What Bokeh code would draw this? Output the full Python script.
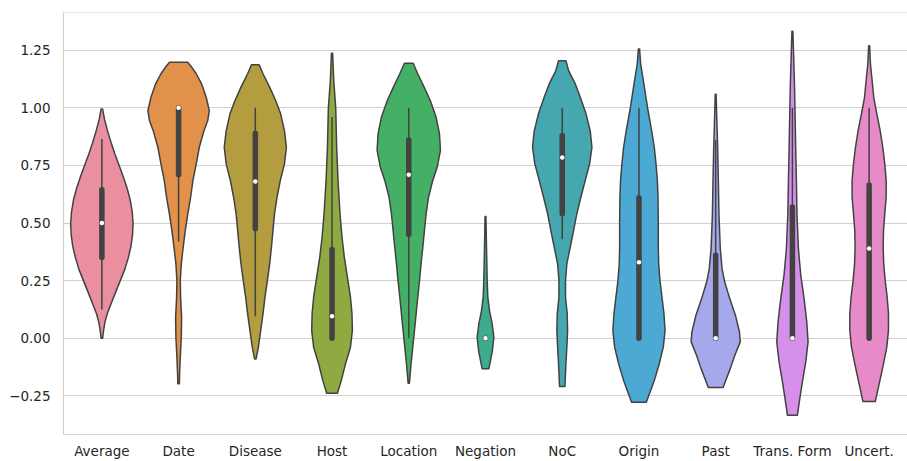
from bokeh.plotting import figure
from bokeh.models import Range1d, FixedTicker, Span
from bokeh.embed import file_html
from bokeh.resources import INLINE

categories = ["Average", "Date", "Disease", "Host", "Location", "Negation",
              "NoC", "Origin", "Past", "Trans. Form", "Uncert."]
colors = ["#EA8F9F", "#E1914A", "#B39D3E", "#8FAA40", "#44B066", "#3FAB8E",
          "#45A8B0", "#4BA9D3", "#A5A8EA", "#D690EA", "#E68BC7"]

# violin outlines: y level and half width (category units)
average_y = [0.0, 0.033, 0.07, 0.106, 0.15, 0.2, 0.25, 0.3, 0.35, 0.4, 0.45, 0.5,
             0.55, 0.6, 0.65, 0.7, 0.757, 0.8, 0.85, 0.9, 0.95, 0.995]
average_w = [0.01, 0.022, 0.04, 0.07, 0.12, 0.18, 0.24, 0.3, 0.345, 0.38, 0.4, 0.407,
             0.395, 0.37, 0.33, 0.28, 0.217, 0.17, 0.12, 0.074, 0.035, 0.01]
date_y = [-0.198, -0.155, -0.082, 0.004, 0.09, 0.178, 0.25, 0.323, 0.395, 0.467, 0.54,
          0.612, 0.685, 0.757, 0.829, 0.9, 0.945, 0.988, 1.046, 1.104, 1.148, 1.177, 1.198]
date_w = [0.01, 0.013, 0.022, 0.035, 0.039, 0.026, 0.022, 0.035, 0.06, 0.087, 0.12,
          0.157, 0.187, 0.23, 0.27, 0.33, 0.38, 0.4, 0.36, 0.3, 0.23, 0.17, 0.118]
disease_y = [-0.09, -0.039, 0.033, 0.106, 0.178, 0.25, 0.323, 0.395, 0.467, 0.54,
             0.612, 0.685, 0.757, 0.829, 0.9, 0.974, 1.032, 1.09, 1.148, 1.187]
disease_w = [0.01, 0.04, 0.07, 0.1, 0.126, 0.157, 0.187, 0.21, 0.23, 0.25,
             0.283, 0.326, 0.38, 0.405, 0.38, 0.33, 0.265, 0.187, 0.1, 0.05]
host_y = [-0.239, -0.184, -0.111, -0.039, 0.033, 0.106, 0.178, 0.265, 0.352, 0.438,
          0.54, 0.685, 0.829, 1.0, 1.119, 1.237]
host_w = [0.07, 0.12, 0.175, 0.24, 0.265, 0.26, 0.24, 0.2, 0.16, 0.13,
          0.104, 0.078, 0.06, 0.048, 0.022, 0.008]
location_y = [-0.195, -0.111, -0.039, 0.033, 0.106, 0.178, 0.25, 0.323, 0.395, 0.467,
              0.54, 0.612, 0.685, 0.742, 0.815, 0.887, 0.959, 1.032, 1.09, 1.148, 1.194]
location_w = [0.008, 0.03, 0.052, 0.074, 0.096, 0.117, 0.14, 0.16, 0.183, 0.204,
              0.226, 0.257, 0.313, 0.37, 0.413, 0.4, 0.357, 0.28, 0.2, 0.117, 0.057]
negation_y = [-0.133, -0.111, -0.054, 0.004, 0.062, 0.12, 0.178, 0.25, 0.395, 0.528]
negation_w = [0.043, 0.057, 0.09, 0.109, 0.087, 0.052, 0.03, 0.022, 0.013, 0.006]
noc_y = [-0.21, -0.111, -0.039, 0.033, 0.106, 0.178, 0.25, 0.323, 0.395, 0.467, 0.54,
         0.612, 0.685, 0.757, 0.829, 0.9, 0.974, 1.046, 1.104, 1.162, 1.205]
noc_w = [0.035, 0.048, 0.06, 0.07, 0.065, 0.043, 0.043, 0.06, 0.104, 0.148, 0.19,
         0.243, 0.3, 0.357, 0.387, 0.365, 0.31, 0.235, 0.17, 0.083, 0.048]
origin_y = [-0.278, -0.184, -0.111, -0.039, 0.033, 0.106, 0.178, 0.25, 0.323, 0.395,
            0.5, 0.612, 0.685, 0.757, 0.829, 0.902, 0.999, 1.119, 1.191, 1.256]
origin_w = [0.096, 0.2, 0.265, 0.317, 0.34, 0.326, 0.3, 0.274, 0.257, 0.252,
            0.252, 0.248, 0.24, 0.222, 0.2, 0.165, 0.113, 0.057, 0.022, 0.008]
past_y = [-0.214, -0.132, -0.074, -0.016, 0.027, 0.1, 0.172, 0.245, 0.302, 0.389,
          0.534, 0.679, 0.823, 0.968, 1.059]
past_w = [0.096, 0.19, 0.25, 0.32, 0.31, 0.257, 0.183, 0.117, 0.083, 0.06,
          0.043, 0.035, 0.026, 0.013, 0.006]
transform_y = [-0.334, -0.262, -0.19, -0.103, -0.016, 0.071, 0.172, 0.274, 0.389,
               0.534, 0.679, 0.823, 0.968, 1.113, 1.258, 1.333]
transform_w = [0.065, 0.096, 0.13, 0.174, 0.204, 0.187, 0.152, 0.109, 0.078,
               0.06, 0.052, 0.043, 0.035, 0.026, 0.013, 0.006]
uncert_y = [-0.275, -0.184, -0.111, -0.039, 0.033, 0.106, 0.178, 0.25, 0.323, 0.395,
            0.467, 0.54, 0.612, 0.685, 0.757, 0.829, 0.902, 0.974, 1.046, 1.119, 1.191, 1.27]
uncert_w = [0.08, 0.14, 0.187, 0.23, 0.252, 0.252, 0.235, 0.209, 0.19, 0.183,
            0.187, 0.204, 0.222, 0.222, 0.204, 0.178, 0.143, 0.1, 0.06, 0.039, 0.017, 0.006]

# box statistics
q1 = [0.35, 0.71, 0.475, 0.0, 0.45, 0.0, 0.54, 0.0, 0.0, 0.0, 0.0]
q3 = [0.645, 1.0, 0.89, 0.385, 0.86, 0.0, 0.88, 0.61, 0.36, 0.57, 0.665]
median = [0.5, 1.0, 0.68, 0.095, 0.71, 0.0, 0.785, 0.33, 0.0, 0.0, 0.39]
whisker_lo = [0.125, 0.42, 0.095, 0.0, 0.0, 0.0, 0.43, 0.0, 0.0, 0.0, 0.0]
whisker_hi = [0.865, 1.0, 1.0, 0.96, 1.0, 0.0, 1.0, 1.0, 0.86, 1.0, 1.0]

y_ticks = [-0.25, 0.0, 0.25, 0.5, 0.75, 1.0, 1.25]
y_tick_labels = ["\u22120.25", "0.00", "0.25", "0.50", "0.75", "1.00", "1.25"]

profiles = [(average_y, average_w), (date_y, date_w), (disease_y, disease_w),
            (host_y, host_w), (location_y, location_w), (negation_y, negation_w),
            (noc_y, noc_w), (origin_y, origin_w), (past_y, past_w),
            (transform_y, transform_w), (uncert_y, uncert_w)]

FONT = "DejaVu Sans"
GRID = "#d0d0d0"
DARK = "#424242"

p = figure(width=907, height=461, output_backend="svg", toolbar_location=None,
           x_range=Range1d(-0.5, 10.5), y_range=Range1d(-0.418, 1.414),
           min_border_left=63, min_border_top=12, min_border_right=0,
           min_border_bottom=27)
p.outline_line_color = None
p.background_fill_color = "white"
p.border_fill_color = "white"

p.xgrid.grid_line_color = None
p.ygrid.grid_line_color = GRID
p.ygrid.grid_line_width = 1.2
p.ygrid.ticker = FixedTicker(ticks=y_ticks)

p.yaxis.ticker = FixedTicker(ticks=y_ticks)
p.yaxis.major_label_overrides = {t: l for t, l in zip(y_ticks, y_tick_labels)}
p.xaxis.ticker = FixedTicker(ticks=list(range(len(categories))))
p.xaxis.major_label_overrides = {i: c for i, c in enumerate(categories)}
for ax in (p.xaxis, p.yaxis):
    ax.axis_line_color = GRID
    ax.axis_line_width = 1.2
    ax.major_tick_line_color = None
    ax.minor_tick_line_color = None
    ax.major_tick_out = 0
    ax.major_tick_in = 0
    ax.minor_tick_out = 0
    ax.minor_tick_in = 0
    ax.major_label_text_font = FONT
    ax.major_label_text_font_size = "13.5px"
    ax.major_label_text_color = "#262626"
p.yaxis.major_label_standoff = 13
p.xaxis.major_label_standoff = 8

p.add_layout(Span(location=1.414, dimension="width", line_color=GRID, line_width=1.2))

xs, ys = [], []
for i, (vy, vw) in enumerate(profiles):
    right = [i + w for w in vw]
    left = [i - w for w in reversed(vw)]
    xs.append(right + left)
    ys.append(list(vy) + list(reversed(vy)))
p.patches(xs, ys, fill_color=colors, line_color=DARK, line_width=1.5, line_join="round")

idx = list(range(len(categories)))
p.segment(x0=idx, y0=whisker_lo, x1=idx, y1=whisker_hi, line_color=DARK, line_width=1.5)
p.segment(x0=idx, y0=q1, x1=idx, y1=q3, line_color=DARK, line_width=5.5, line_cap="round")
p.scatter(x=idx, y=median, size=4.5, fill_color="white", line_color=None)

open("out.html", "w").write(file_html(p, INLINE))
